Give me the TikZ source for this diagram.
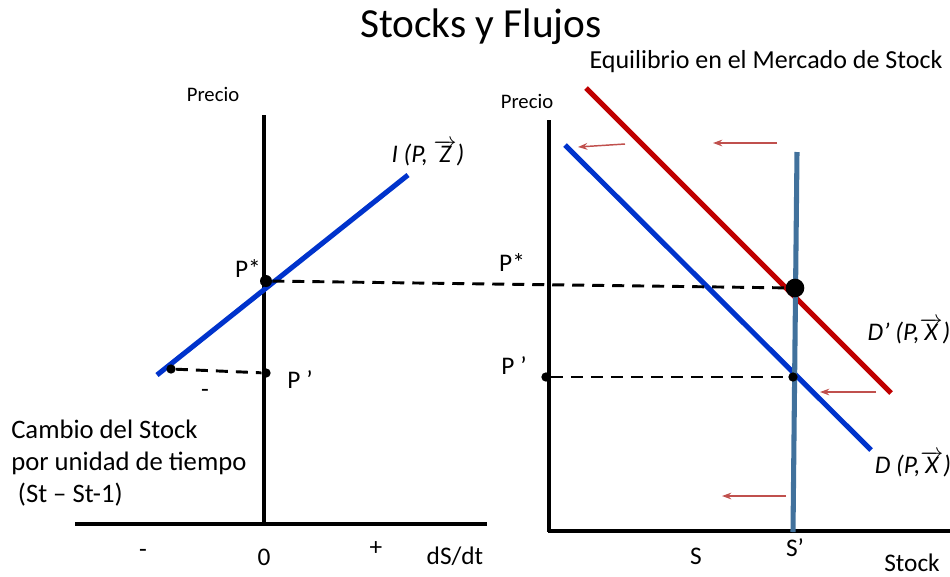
\documentclass[tikz,border=0pt]{standalone}
\usepackage{fontspec}
\setmainfont{Carlito}
\usetikzlibrary{arrows.meta}
\definecolor{lblue}{RGB}{0,51,204}
\definecolor{dred}{RGB}{192,0,0}
\definecolor{steel}{RGB}{65,113,156}
\definecolor{ared}{RGB}{192,80,77}
\tikzset{
  axis/.style={line width=2.3pt, black},
  curveb/.style={line width=3.8pt, lblue},
  curver/.style={line width=3.8pt, dred},
  vline/.style={line width=3.8pt, steel},
  dashline/.style={line width=2.2pt, dash pattern=on 9pt off 6pt},
  shiftarrow/.style={line width=1.1pt, ared, -{Stealth[length=7pt,width=5pt]}},
  lbl/.style={font=\fontsize{19}{23}\selectfont, inner sep=0pt},
  small/.style={font=\fontsize{15.5}{18}\selectfont, inner sep=0pt},
  dot/.style={circle, fill=black, inner sep=0pt, minimum size=#1},
}
\begin{document}
\begin{tikzpicture}[x=0.75pt,y=-0.75pt]
\useasboundingbox (0,0) rectangle (950,576);
% titles
\node[inner sep=0pt, font=\fontsize{31}{36}\selectfont] (title) at (481,27) {Stocks y Flujos};
\node[inner sep=0pt, font=\fontsize{19.5}{23}\selectfont] (eq) at (766,62) {Equilibrio en el Mercado de Stock};
% ---------- left panel ----------
\coordinate (ly0) at (264,115);
\coordinate (ly1) at (264,525);
\coordinate (lx0) at (75,524);
\coordinate (lx1) at (487,524);
\draw[axis] (ly0) -- (ly1);
\draw[axis] (lx0) -- (lx1);
\coordinate (i0) at (157,375);
\coordinate (i1) at (408,175);
\draw[curveb] (i0) -- (i1);
\node[dot=9pt] (pstarL) at (266,281) {};
\node[dot=7pt] (pprimeL) at (266,373) {};
\node[dot=7pt] (qneg) at (171,369) {};
\draw[dashline] (qneg) -- (pprimeL);
\node[small] (precioL) at (213,94) {Precio};
\node[lbl, font=\fontsize{19}{23}\itshape] (Ilab) at (428,153) {I (P, $\overrightarrow{\mbox{\itshape Z}}$)};
\node[lbl] (pstarLlab) at (248,268) {P*};
\node[lbl] (pprimeLlab) at (300,380) {P ’};
\node[lbl] (minus1) at (205,393) {-};
\node[lbl, align=left, anchor=north west, font=\fontsize{20}{24}\selectfont] (cambio) at (11,420) {Cambio del Stock\\por unidad de tiempo\\\hspace{5pt}(St – St-1)};
\node[lbl] (mlab) at (143,553) {-};
\node[lbl] (zlab) at (264,557) {0};
\node[lbl] (plab) at (376,549) {+};
\node[lbl] (dsdt) at (455,556) {dS/dt};
% ---------- right panel ----------
\coordinate (ry0) at (549,120);
\coordinate (ry1) at (549,532);
\coordinate (rx0) at (548,531);
\coordinate (rx1) at (950,531);
\draw[axis] (ry0) -- (ry1);
\draw[axis] (rx0) -- (rx1);
\coordinate (dp0) at (586,88);
\coordinate (dp1) at (891,393);
\draw[curver] (dp0) -- (dp1);
\coordinate (d0) at (565,145);
\coordinate (d1) at (871,450);
\draw[curveb] (d0) -- (d1);
\coordinate (s0) at (797,152);
\coordinate (s1) at (793,532);
\draw[vline] (s0) -- (s1);
\node[dot=14pt] (eqR) at (795,288) {};
\node[dot=7pt] (ppR) at (793,377) {};
\node[dot=7pt] (ppAx) at (546,377) {};
\draw[dashline] (pstarL) -- (eqR);
\draw[dashline] (ppAx) -- (ppR);
% shift arrows
\coordinate (a1s) at (625,144); \coordinate (a1e) at (578,147);
\coordinate (a2s) at (777,143); \coordinate (a2e) at (713,143);
\coordinate (a3s) at (876,392); \coordinate (a3e) at (820,392);
\coordinate (a4s) at (786,496); \coordinate (a4e) at (722,496);
\draw[shiftarrow] (a1s) -- (a1e);
\draw[shiftarrow] (a2s) -- (a2e);
\draw[shiftarrow] (a3s) -- (a3e);
\draw[shiftarrow] (a4s) -- (a4e);
% labels
\node[small] (precioR) at (527,101) {Precio};
\node[lbl] (pstarRlab) at (512,262) {P*};
\node[lbl] (ppRlab) at (514,366) {P ’};
\node[lbl] (slab) at (696,556) {S};
\node[lbl] (sprime) at (795,548) {S’};
\node[lbl] (stock) at (912,563) {Stock};
\node[lbl, font=\fontsize{19}{23}\itshape] (dplab) at (909,331) {D’ (P,$\overrightarrow{\mbox{\itshape X}}$)};
\node[lbl, font=\fontsize{19}{23}\itshape] (dlab) at (913,464) {D (P,$\overrightarrow{\mbox{\itshape X}}$)};
\end{tikzpicture}
\end{document}
